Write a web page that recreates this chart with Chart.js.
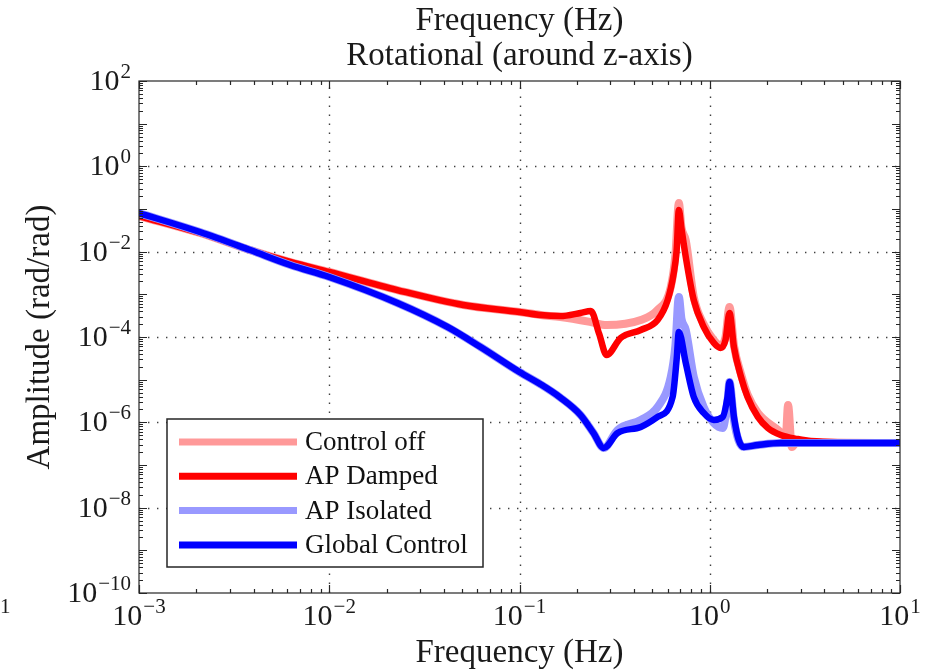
<!DOCTYPE html>
<html lang="en">
<head>
<meta charset="utf-8">
<title>Rotational (around z-axis)</title>
<script src="https://cdn.jsdelivr.net/npm/chart.js@4.4.1/dist/chart.umd.min.js"></script>
<style>
  html, body { margin: 0; background: #fff; }
  .plot { position: relative; width: 938px; height: 671px; }
</style>
</head>
<body>
<div class="plot"><canvas id="rotz"></canvas></div>
<script>
// Rotational transfer function (around z-axis): amplitude vs frequency, log-log.
// Each curve is a pair of arrays: frequency (Hz) and amplitude (rad/rad).

const controlOffFreq = [1e-3, 2.09e-3, 3.84e-3, 6.24e-3, 1e-2, 2.28e-2, 5.07e-2, 0.1, 0.129, 0.164,
  0.237, 0.287, 0.434, 0.532, 0.624, 0.66, 0.688, 0.71, 0.748, 0.824, 0.929, 1.05, 1.14, 1.21,
  1.27, 1.34, 1.46, 1.58, 1.79, 2.28, 2.51, 2.58, 2.70, 2.9, 3.4, 10];
const controlOffAmp = [6.85e-2, 2.74e-2, 1.09e-2, 5.73e-3, 3.34e-3, 1.26e-3, 5.62e-4, 3.86e-4, 3.28e-4, 2.94e-4,
  2.25e-4, 1.91e-4, 2.51e-4, 4.30e-4, 1.49e-3, 8.5e-3, 0.138, 0.037, 0.0185, 8.67e-4, 2.0e-4, 8.5e-5, 6.4e-5, 1.0e-4,
  5.05e-4, 6.4e-5, 1.35e-5, 4.5e-6, 1.66e-6, 6.62e-7, 4.78e-7, 2.55e-6, 2.64e-7, 3.66e-7, 3.45e-7, 3.28e-7];

const apDampedFreq = [1e-3, 2.09e-3, 3.84e-3, 6.24e-3, 1e-2, 2.28e-2, 5.07e-2, 0.1, 0.129, 0.164,
  0.209, 0.237, 0.262, 0.287, 0.34, 0.434, 0.532, 0.601, 0.647, 0.67, 0.688, 0.71, 0.748, 0.824, 0.929,
  1.05, 1.14, 1.21, 1.27, 1.34, 1.46, 1.58, 1.79, 2.02, 2.36, 2.9, 3.4, 10];
const apDampedAmp = [6.85e-2, 2.74e-2, 1.09e-2, 5.73e-3, 3.34e-3, 1.26e-3, 5.62e-4, 3.86e-4, 3.28e-4, 3.1e-4,
  3.66e-4, 4.07e-4, 1.2e-4, 3.79e-5, 9.48e-5, 1.46e-4, 2.51e-4, 7.38e-4, 3.16e-3, 1.09e-2, 0.0948, 0.035, 7.5e-3, 7.38e-4, 1.72e-4,
  7.24e-5, 5.53e-5, 8.51e-5, 3.66e-4, 5.83e-5, 1.16e-5, 3.93e-6, 1.34e-6, 7.38e-7, 5.05e-7, 4.07e-7, 3.66e-7, 3.28e-7];

const apIsolatedFreq = [1e-3, 2.09e-3, 3.84e-3, 6.24e-3, 1e-2, 2.28e-2, 4.18e-2, 6.24e-2, 0.1, 0.129, 0.164,
  0.209, 0.245, 0.277, 0.328, 0.434, 0.532, 0.624, 0.66, 0.688, 0.71, 0.748, 0.824, 0.929, 1.05, 1.17,
  1.24, 1.27, 1.34, 1.42, 1.51, 1.79, 2.36, 10];
const apIsolatedAmp = [8.05e-2, 2.89e-2, 1.09e-2, 4.87e-3, 2.55e-3, 6.27e-4, 1.72e-4, 5.83e-5, 1.51e-5, 7.8e-6, 3.8e-6,
  1.5e-6, 5.6e-7, 2.51e-7, 6.62e-7, 1.14e-6, 2.29e-6, 1.16e-5, 6.4e-5, 8.67e-4, 2.7e-4, 1.46e-4, 1.16e-5, 2.29e-6, 9.66e-7, 7.38e-7,
  3.2e-6, 8.83e-6, 1.14e-6, 3.66e-7, 2.64e-7, 2.94e-7, 3.28e-7, 3.28e-7];

const globalFreq = [1e-3, 2.09e-3, 3.84e-3, 6.24e-3, 1e-2, 2.28e-2, 4.18e-2, 6.24e-2, 0.1, 0.129, 0.164,
  0.209, 0.245, 0.277, 0.328, 0.434, 0.532, 0.638, 0.67, 0.688, 0.748, 0.824, 0.929, 1.05, 1.17,
  1.24, 1.27, 1.34, 1.42, 1.51, 1.79, 2.36, 10];
const globalAmp = [8.05e-2, 2.89e-2, 1.09e-2, 4.87e-3, 2.55e-3, 6.27e-4, 1.72e-4, 5.83e-5, 1.51e-5, 7.8e-6, 3.8e-6,
  1.5e-6, 5.6e-7, 2.51e-7, 5.62e-7, 7.78e-7, 1.34e-6, 3.93e-6, 3.0e-5, 1.31e-4, 2.46e-5, 3.93e-6, 1.66e-6, 1.14e-6, 1.34e-6,
  3.93e-6, 8.83e-6, 1.34e-6, 3.86e-7, 2.64e-7, 2.94e-7, 3.28e-7, 3.28e-7];

// decade exponents for the axis labels; the inner ones also carry the dotted grid
const X_TICK_EXP = [-3, -2, -1, 0, 1];
const Y_TICK_EXP = [2, 0, -2, -4, -6, -8, -10];

const TITLE_LINES = ['Frequency (Hz)', 'Rotational (around z-axis)'];
const X_TITLE = 'Frequency (Hz)';
const Y_TITLE = 'Amplitude (rad/rad)';

const SERIF = '"Liberation Serif", "Times New Roman", serif';
const FONT_TEXT = `33px ${SERIF}`;
const FONT_BASE = `30px ${SERIF}`;
const FONT_EXP = `21px ${SERIF}`;
const FONT_LEGEND = `27px ${SERIF}`;
const INK = '#262626';

function points(freq, amp) {
  return freq.map((f, i) => ({ x: f, y: amp[i] }));
}

function series(label, freq, amp, color, width, order) {
  return {
    label,
    data: points(freq, amp),
    borderColor: color,
    backgroundColor: color,
    borderWidth: width,
    order,                       // lower order is drawn on top
    pointRadius: 0,
    pointHoverRadius: 0,
    cubicInterpolationMode: 'monotone',
    borderJoinStyle: 'round',
    borderCapStyle: 'round',
    clip: 0,
    fill: false,
  };
}

// "10" with a raised exponent
function drawPow(ctx, n, x, y, align) {
  const exp = n < 0 ? '\u2212' + (-n) : String(n);
  ctx.font = FONT_BASE;
  const wb = ctx.measureText('10').width;
  ctx.font = FONT_EXP;
  const we = ctx.measureText(exp).width;
  const x0 = align === 'right' ? x - wb - we - 1 : x - (wb + we + 1) / 2;
  ctx.textAlign = 'left';
  ctx.textBaseline = 'alphabetic';
  ctx.font = FONT_BASE;
  ctx.fillText('10', x0, y);
  ctx.font = FONT_EXP;
  ctx.fillText(exp, x0 + wb + 1, y - 12);
}

// values 1..9 x 10^d for every decade between 10^lo and 10^hi
function decadeTicks(lo, hi) {
  const major = [], minor = [];
  for (let d = lo; d <= hi; d++) {
    major.push(Math.pow(10, d));
    if (d < hi) for (let m = 2; m <= 9; m++) minor.push(m * Math.pow(10, d));
  }
  return { major, minor };
}

function drawLegend(ctx, a, datasets) {
  const left = a.left + 28, top = a.top + 338, w = 316, h = 148;
  ctx.fillStyle = '#fff';
  ctx.fillRect(left, top, w, h);
  ctx.strokeStyle = INK;
  ctx.lineWidth = 1.5;
  ctx.strokeRect(left, top, w, h);
  datasets.forEach((ds, i) => {
    const cy = top + 23 + i * 34.3;
    ctx.strokeStyle = ds.borderColor;
    ctx.lineWidth = 7;
    ctx.lineCap = 'butt';
    ctx.beginPath();
    ctx.moveTo(left + 12, cy);
    ctx.lineTo(left + 130, cy);
    ctx.stroke();
    ctx.fillStyle = '#111';
    ctx.font = FONT_LEGEND;
    ctx.textAlign = 'left';
    ctx.textBaseline = 'middle';
    ctx.fillText(ds.label, left + 138, cy + 1);
  });
}

const axesFrame = {
  id: 'axesFrame',
  beforeDatasetsDraw(chart) {
    const { ctx, chartArea: a, scales: { x, y } } = chart;
    ctx.save();
    ctx.strokeStyle = '#404040';
    ctx.lineWidth = 1.4;
    ctx.setLineDash([1.4, 7.6]);
    ctx.beginPath();
    X_TICK_EXP.slice(1, -1).forEach((n) => {
      const px = Math.round(x.getPixelForValue(Math.pow(10, n))) + 0.5;
      ctx.moveTo(px, a.bottom);
      ctx.lineTo(px, a.top);
    });
    Y_TICK_EXP.slice(1, -1).forEach((n) => {
      const py = Math.round(y.getPixelForValue(Math.pow(10, n))) + 0.5;
      ctx.moveTo(a.left, py);
      ctx.lineTo(a.right, py);
    });
    ctx.stroke();
    ctx.restore();
  },
  afterDatasetsDraw(chart) {
    const { ctx, chartArea: a, scales: { x, y } } = chart;
    ctx.save();

    // box + inward ticks on all four sides
    ctx.strokeStyle = INK;
    ctx.lineWidth = 1.2;
    ctx.strokeRect(a.left, a.top, a.right - a.left, a.bottom - a.top);
    const xt = decadeTicks(-3, 1);
    const yt = decadeTicks(-10, 2);
    ctx.beginPath();
    const tickX = (v, len) => {
      const px = Math.round(x.getPixelForValue(v)) + 0.5;
      ctx.moveTo(px, a.bottom); ctx.lineTo(px, a.bottom - len);
      ctx.moveTo(px, a.top); ctx.lineTo(px, a.top + len);
    };
    const tickY = (v, len) => {
      const py = Math.round(y.getPixelForValue(v)) + 0.5;
      ctx.moveTo(a.left, py); ctx.lineTo(a.left + len, py);
      ctx.moveTo(a.right, py); ctx.lineTo(a.right - len, py);
    };
    xt.major.forEach((v) => tickX(v, 8));
    xt.minor.forEach((v) => tickX(v, 4));
    yt.major.forEach((v) => tickY(v, 8));
    yt.minor.forEach((v) => tickY(v, 4));
    ctx.stroke();

    // tick labels
    ctx.fillStyle = '#1a1a1a';
    X_TICK_EXP.forEach((n) => drawPow(ctx, n, x.getPixelForValue(Math.pow(10, n)), a.bottom + 32, 'center'));
    Y_TICK_EXP.forEach((n) => drawPow(ctx, n, a.left - 8, y.getPixelForValue(Math.pow(10, n)) + 9, 'right'));

    // titles
    const cx = (a.left + a.right) / 2;
    ctx.font = FONT_TEXT;
    ctx.textAlign = 'center';
    ctx.textBaseline = 'alphabetic';
    ctx.fillText(TITLE_LINES[0], cx, 30);
    ctx.fillText(TITLE_LINES[1], cx, 65);
    ctx.fillText(X_TITLE, cx, 662);
    ctx.save();
    ctx.translate(49, (a.top + a.bottom) / 2);
    ctx.rotate(-Math.PI / 2);
    ctx.fillText(Y_TITLE, 0, 0);
    ctx.restore();

    // exponent left over from the neighbouring panel's label
    ctx.font = FONT_EXP;
    ctx.textAlign = 'left';
    ctx.fillText('1', 0, 613);

    drawLegend(ctx, a, chart.data.datasets);
    ctx.restore();
  },
};

new Chart(document.getElementById('rotz'), {
  type: 'line',
  data: {
    datasets: [
      series('Control off', controlOffFreq, controlOffAmp, '#ff9999', 8, 4),
      series('AP Damped', apDampedFreq, apDampedAmp, '#ff0000', 6.5, 3),
      series('AP Isolated', apIsolatedFreq, apIsolatedAmp, '#9999ff', 8, 2),
      series('Global Control', globalFreq, globalAmp, '#0000ff', 6.5, 1),
    ],
  },
  options: {
    responsive: true,
    maintainAspectRatio: false,
    animation: false,
    layout: { padding: { left: 139, right: 38, top: 81, bottom: 78 } },
    plugins: { legend: { display: false }, tooltip: { enabled: false } },
    scales: {
      x: { type: 'logarithmic', min: 1e-3, max: 10, display: false },
      y: { type: 'logarithmic', min: 1e-10, max: 100, display: false },
    },
  },
  plugins: [axesFrame],
});
</script>
</body>
</html>
